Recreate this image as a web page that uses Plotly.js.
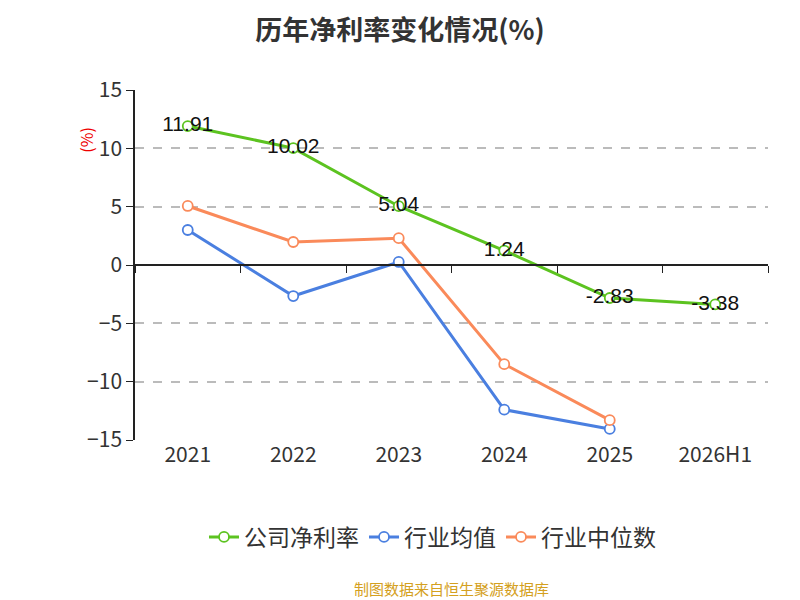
<!DOCTYPE html>
<html><head><meta charset="utf-8"><script src="https://cdn.plot.ly/plotly-3.0.1.min.js"></script></head>
<body style="margin:0"><div id="c" style="width:800px;height:600px"></div>
<script>
const categories=['2021','2022','2023','2024','2025','2026H1'];
const company=[11.91,10.02,5.04,1.24,-2.83,-3.38];
const industryAvg=[3.0,-2.66,0.26,-12.4,-14.05,null];
const industryMed=[5.06,1.97,2.3,-8.5,-13.3,null];
const font='"Noto Sans CJK SC","Noto Sans",sans-serif';
function tr(name,y,color,text){return {x:categories,y:y,name:name,type:'scatter',mode:text?'lines+markers+text':'lines+markers',
 text:text?y.map(v=>v.toFixed(2)):undefined,textposition:'middle center',textfont:{size:21,color:'#111',family:'"Liberation Sans",Arial,sans-serif'},
 line:{color:color,width:3},marker:{size:10,color:'#fff',line:{color:color,width:1.8}},cliponaxis:false};}
const data=[tr('公司净利率',company,'#5cc320',true),tr('行业均值',industryAvg,'#4a7fe0'),tr('行业中位数',industryMed,'#fa8a5a'),
 {x:categories,y:[0,0,0,0,0,0],xaxis:'x2',mode:'none',showlegend:false,hoverinfo:'skip'}];
const layout={width:800,height:600,margin:{l:135,r:32,t:90,b:160},paper_bgcolor:'#fff',plot_bgcolor:'#fff',
 font:{family:font,color:'#333'},
 title:{text:'<b>历年净利率变化情况(%)</b>',x:0.5,y:0.965,font:{size:27,color:'#333'}},
 xaxis:{type:'category',showline:false,showgrid:false,zeroline:false,ticks:'',tickfont:{size:21,color:'#333'},range:[-0.5,5.5]},
 xaxis2:{type:'category',overlaying:'x',anchor:'free',position:0.5,showline:true,linecolor:'#222',linewidth:1.5,ticks:'outside',ticklen:7,tickcolor:'#222',tickson:'boundaries',showticklabels:false,showgrid:false,zeroline:false,range:[-0.5,5.5]},
 yaxis:{range:[-15,15],dtick:5,showline:true,linecolor:'#222',linewidth:1.5,ticks:'outside',ticklen:7,tickcolor:'#222',
  gridcolor:'#bbb',griddash:'dash',gridwidth:1.5,zeroline:false,tickfont:{size:21,color:'#333'}},
 legend:{orientation:'h',x:0.47,xanchor:'center',y:-0.277,yanchor:'middle',font:{size:23,color:'#333'},traceorder:'normal'},
 annotations:[{text:'(%)',textangle:-90,xref:'paper',yref:'paper',x:-0.1,y:0.9,showarrow:false,font:{size:16,color:'#e00'}},
  {text:'制图数据来自恒生聚源数据库',xref:'paper',yref:'paper',x:0.5,y:-0.46,showarrow:false,font:{size:15,color:'#d4a020'}}],
 showlegend:true};
Plotly.newPlot('c',data,layout,{displayModeBar:false});
</script></body></html>
